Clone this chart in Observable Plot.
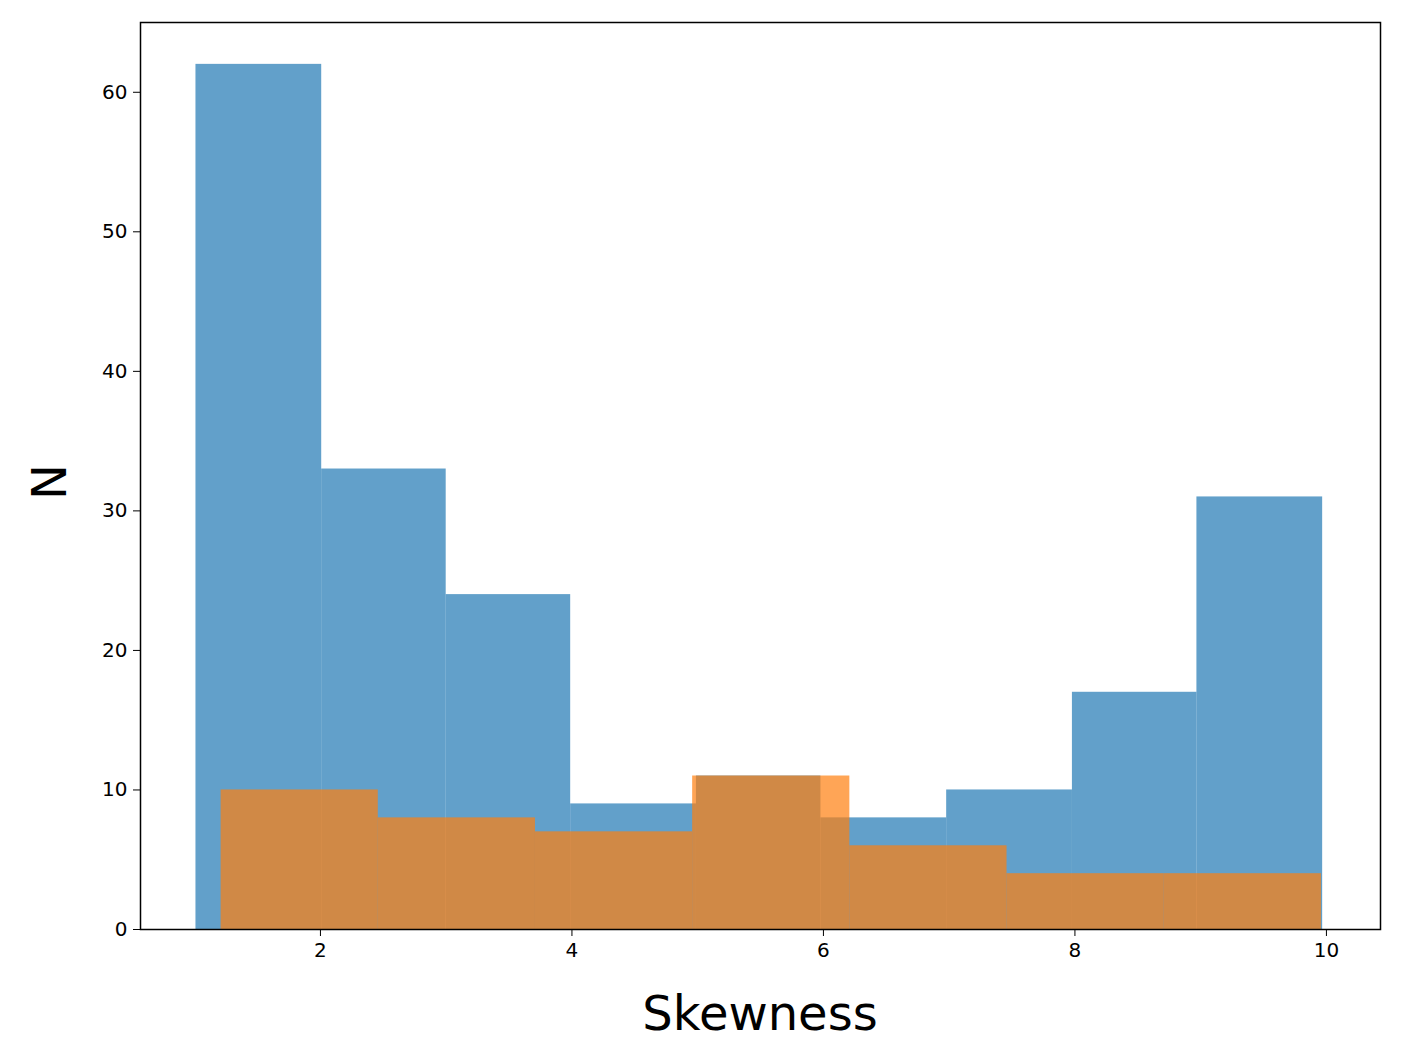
<!DOCTYPE html>
<html>
<head>
<meta charset="utf-8">
<script src="https://cdn.jsdelivr.net/npm/d3@7"></script>
<script src="https://cdn.jsdelivr.net/npm/@observablehq/plot@0.6"></script>
<style>
  body { margin: 0; background: #fff; }
  svg { font-family: "DejaVu Sans", sans-serif; }
</style>
</head>
<body>
<div id="chart"></div>
<script>
// blue histogram: bin edges and counts
const blueEdges = [1.01, 2.01, 3.0, 3.99, 4.99, 5.98, 6.98, 7.98, 8.97, 9.97]
const blueCounts = [62, 33, 24, 9, 11, 8, 10, 17, 31]
// orange histogram
const orangeEdges = [1.21, 2.46, 3.71, 4.96, 6.21, 7.46, 8.71, 9.96]
const orangeCounts = [10, 8, 7, 11, 6, 4, 4]

const toBins = (edges, counts) => counts.map((c, i) => ({x1: edges[i], x2: edges[i + 1], y: c}))

const chart = Plot.plot({
  width: 1403,
  height: 1062,
  marginLeft: 140,
  marginRight: 23,
  marginTop: 22,
  marginBottom: 133,
  style: {fontSize: '20px', background: '#fff'},
  x: {domain: [0.569, 10.43], ticks: [2, 4, 6, 8, 10], tickSize: 7, label: null},
  y: {domain: [0, 65], ticks: [0, 10, 20, 30, 40, 50, 60], tickSize: 7, label: null},
  marks: [
    Plot.rectY(toBins(blueEdges, blueCounts), {x1: 'x1', x2: 'x2', y: 'y', fill: '#1f77b4', fillOpacity: 0.7}),
    Plot.rectY(toBins(orangeEdges, orangeCounts), {x1: 'x1', x2: 'x2', y: 'y', fill: '#ff7f0e', fillOpacity: 0.7}),
    Plot.axisX({ticks: [2, 4, 6, 8, 10], tickSize: 7, tickPadding: 6, fontSize: 20, label: null}),
    Plot.axisY({ticks: [0, 10, 20, 30, 40, 50, 60], tickSize: 7, tickPadding: 6, fontSize: 20, label: null}),
    Plot.frame({stroke: 'black', strokeWidth: 1.5})
  ]
})

const svg = d3.select(chart)
svg.append('text').attr('x', 760).attr('y', 1030).attr('text-anchor', 'middle')
  .attr('font-size', 48).text('Skewness')
svg.append('text').attr('transform', 'translate(66,482) rotate(-90)').attr('text-anchor', 'middle')
  .attr('font-size', 48).text('N')

d3.select('#chart').append(() => chart)
</script>
</body>
</html>
